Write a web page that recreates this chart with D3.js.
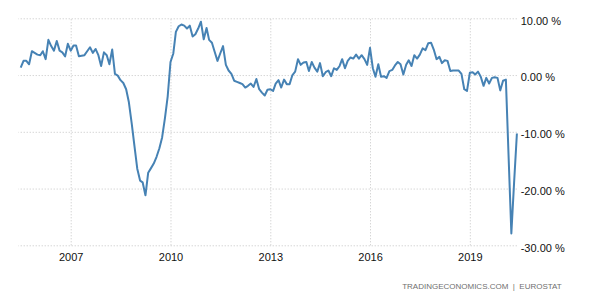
<!DOCTYPE html>
<html>
<head>
<meta charset="utf-8">
<script src="https://cdnjs.cloudflare.com/ajax/libs/d3/7.8.5/d3.min.js"></script>
<style>
    body { margin: 0; background: #fff; }
    svg text { font-family: "Liberation Sans", Arial, sans-serif; }
</style>
</head>
<body>
<div id="chart"></div>
<script>
// monthly values (%), first month is July 2005, last is June 2020
var firstMonth = new Date(2005, 6, 1);
var values = [
    1.3, 2.5, 2.5, 1.9, 4.2, 3.9, 3.6, 3.5, 4.2, 2.8, 6.2, 5.1, 4.3, 6.0, 4.3, 4.0, 3.3,
    5.5, 4.3, 5.2, 5.2, 3.3, 3.4, 3.5, 4.2, 4.9, 3.9, 4.6, 3.5, 1.6, 4.0, 3.5, 1.9, 4.5,
    0.2, -0.1, -0.9, -1.4, -2.5, -4.8, -8.5, -12.5, -16.5, -18.6, -18.9, -21.2,
    -17.2, -16.4, -15.6, -14.4, -12.9, -11.0, -7.6, -3.8, 2.3, 3.8, 7.6, 8.6, 8.9, 8.7, 8.2, 8.7,
    6.8, 7.2, 8.2, 9.4, 6.3, 8.3, 6.2, 5.7, 4.1, 2.5, 3.8, 5.1, 1.8, 0.8, 0.2, -1.0,
    -1.2, -1.4, -1.6, -2.2, -1.9, -1.5, -2.1, -0.7, -2.5, -3.1, -3.6, -2.6, -2.5, -2.8,
    -1.5, -0.9, -2.2, -0.8, -1.6, -1.6, 0.0, 0.6, 2.8, 1.8, 2.2, 2.3, 0.7, 2.3, 1.3, 0.6,
    2.1, -0.2, 0.5, 0.8, -0.2, 1.2, 0.9, 1.6, 2.8, 1.2, 2.5, 3.1, 2.9, 3.6, 2.9, 3.5, 2.8, 1.8, 4.8,
    1.2, -0.3, 1.9, -0.3, -0.2, -0.5, 0.7, 0.9, 1.7, 2.3, 1.9,
    0.1, 1.8, 2.6, 1.6, 3.5, 2.9, 3.6, 4.7, 4.4,
    5.6, 5.7, 4.5, 2.8, 3.2, 2.1, 2.6, 2.5, 0.7, 0.8, 0.8, 0.8, 0.2, -2.5, -2.8,
    0.4, 0.5, 0.1, 0.6, -0.3, -1.9, -0.5, -1.5, -0.5, -0.4, -0.5, -2.7, -1.0, -0.8,
    -14.0, -27.9, -19.0, -10.3
];
var yTicks = [10, 0, -10, -20, -30];
var xTicks = [2007, 2010, 2013, 2016, 2019];
var footer = ["TRADINGECONOMICS.COM", "|", "EUROSTAT"];

function lineChart(selector, width, height){
    this.svg = null;
    var left = 18.3, right = 516.7, top = 18.3, bottom = 245.3;
    var x, y;

    this.init = function(){
        this.svg = d3.select(selector).append("svg")
            .attr("width", width).attr("height", height);
        makeScales();
        paintYAxis(this.svg);
        paintXAxis(this.svg);
        paintLine(this.svg);
        paintFooter(this.svg);
    }
    //---------------------------------------------------------------------
    var makeScales = function(){
        var lastMonth = d3.timeMonth.offset(firstMonth, values.length - 1);
        x = d3.scaleTime().domain([firstMonth, lastMonth]).range([20.7, 516.9]);
        y = d3.scaleLinear().domain([-30, 10]).range([bottom, top]);
    }
    //---------------------------------------------------------------------
    var styleGrid = function(g){
        g.select(".domain").remove();
        g.selectAll(".tick line")
            .attr("stroke", "#c4c4c4")
            .attr("stroke-dasharray", "1,2");
        g.selectAll(".tick text")
            .attr("fill", "#111")
            .style("font-size", "11px");
    }
    //---------------------------------------------------------------------
    var paintYAxis = function(svg){
        var axis = d3.axisRight(y)
            .tickValues(yTicks)
            .tickSize(-(right - left))
            .tickPadding(4)
            .tickFormat(function(d){ return d.toFixed(2) + " %"; });
        var g = svg.append("g")
            .attr("transform", "translate(" + right + ",0)")
            .call(axis);
        styleGrid(g);
        g.selectAll(".tick text").attr("dy", "0.52em");
    }
    //---------------------------------------------------------------------
    var paintXAxis = function(svg){
        var axis = d3.axisBottom(x)
            .tickValues(xTicks.map(function(yr){ return new Date(yr, 0, 1); }))
            .tickSize(-(bottom - top))
            .tickPadding(8)
            .tickFormat(d3.timeFormat("%Y"));
        var g = svg.append("g")
            .attr("transform", "translate(0," + bottom + ")")
            .call(axis);
        styleGrid(g);
    }
    //---------------------------------------------------------------------
    var paintLine = function(svg){
        var line = d3.line()
            .x(function(d, i){ return x(d3.timeMonth.offset(firstMonth, i)); })
            .y(function(d){ return y(d); });
        svg.append("path")
            .datum(values)
            .attr("d", line)
            .attr("fill", "none")
            .attr("stroke", "#4682b4")
            .attr("stroke-width", 2)
            .attr("stroke-linejoin", "round");
    }
    //---------------------------------------------------------------------
    var paintFooter = function(svg){
        svg.append("text")
            .attr("x", 561.7).attr("y", 288.5)
            .attr("text-anchor", "end")
            .attr("fill", "#6f6f6f")
            .style("font-size", "8px")
            .text(footer.join("  "))
            .attr("xml:space", "preserve")
            .style("white-space", "pre");
    }
}

var chart = new lineChart("#chart", 600, 300);
chart.init();
</script>
</body>
</html>
